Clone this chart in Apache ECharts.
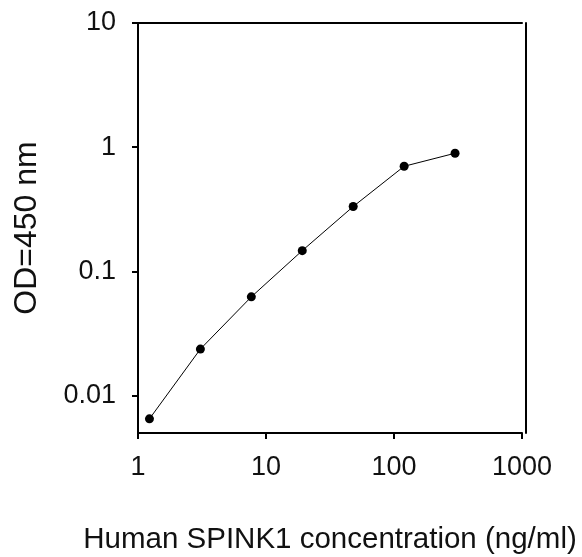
<!DOCTYPE html>
<html>
<head>
<meta charset="utf-8">
<script src="https://cdn.jsdelivr.net/npm/echarts@6/dist/echarts.min.js"></script>
<style>html,body{margin:0;padding:0;background:#fff}#c{width:582px;height:557px}</style>
</head>
<body>
<div id="c"></div>
<script>
const concentrations = [1.2288, 3.072, 7.68, 19.2, 48, 120, 300];
const odValues = [0.0065, 0.0237, 0.0624, 0.147, 0.333, 0.702, 0.894];
const yTickValues = [0.01, 0.1, 1, 10];
const xTickValues = [1, 10, 100, 1000];
const xTitle = 'Human SPINK1 concentration (ng/ml)';
const yTitle = 'OD=450 nm';

const font = '"Liberation Sans", Arial, sans-serif';
const chart = echarts.init(document.getElementById('c'));
const lineStyle = { color: '#000', width: 2 };
chart.setOption({
  animation: false,
  backgroundColor: '#fff',
  grid: { left: 138, right: 60, top: 23, bottom: 124, containLabel: false, outerBoundsMode: 'none' },
  xAxis: [{
    type: 'log', logBase: 10, min: 1, max: 1000,
    position: 'bottom',
    name: xTitle, nameLocation: 'middle', nameGap: 92,
    nameTextStyle: { fontFamily: font, fontSize: 29.5, color: '#111' },
    axisLine: { lineStyle: lineStyle },
    axisTick: { show: true, inside: false, length: 6, lineStyle: lineStyle, customValues: xTickValues },
    axisLabel: { fontFamily: font, fontSize: 27, color: '#111', margin: 21, customValues: xTickValues,
      formatter: v => String(v) },
    splitLine: { show: false },
    minorTick: { show: false }
  }, {
    type: 'log', logBase: 10, min: 1, max: 1000, position: 'top',
    axisLine: { show: true, lineStyle: lineStyle },
    axisTick: { show: false }, axisLabel: { show: false }, splitLine: { show: false }
  }],
  yAxis: [{
    type: 'log', logBase: 10, min: 0.005, max: 10,
    position: 'left',
    name: yTitle, nameLocation: 'middle', nameGap: 95, nameRotate: 90,
    nameTextStyle: { fontFamily: font, fontSize: 32, color: '#111' },
    axisLine: { show: true, lineStyle: lineStyle },
    axisTick: { show: true, inside: false, length: 6, lineStyle: lineStyle, customValues: yTickValues },
    axisLabel: { fontFamily: font, fontSize: 27, color: '#111', margin: 22, customValues: yTickValues,
      formatter: v => String(v) },
    splitLine: { show: false },
    minorTick: { show: false }
  }, {
    type: 'log', logBase: 10, min: 0.005, max: 10, position: 'right', offset: 4,
    axisLine: { show: true, lineStyle: lineStyle },
    axisTick: { show: false }, axisLabel: { show: false }, splitLine: { show: false }
  }],
  series: [{
    type: 'line',
    xAxisIndex: 0, yAxisIndex: 0,
    data: concentrations.map((c, i) => [c, odValues[i]]),
    symbol: 'circle', symbolSize: 9,
    itemStyle: { color: '#000' },
    lineStyle: { color: '#000', width: 1 }
  }]
});
</script>
</body>
</html>
